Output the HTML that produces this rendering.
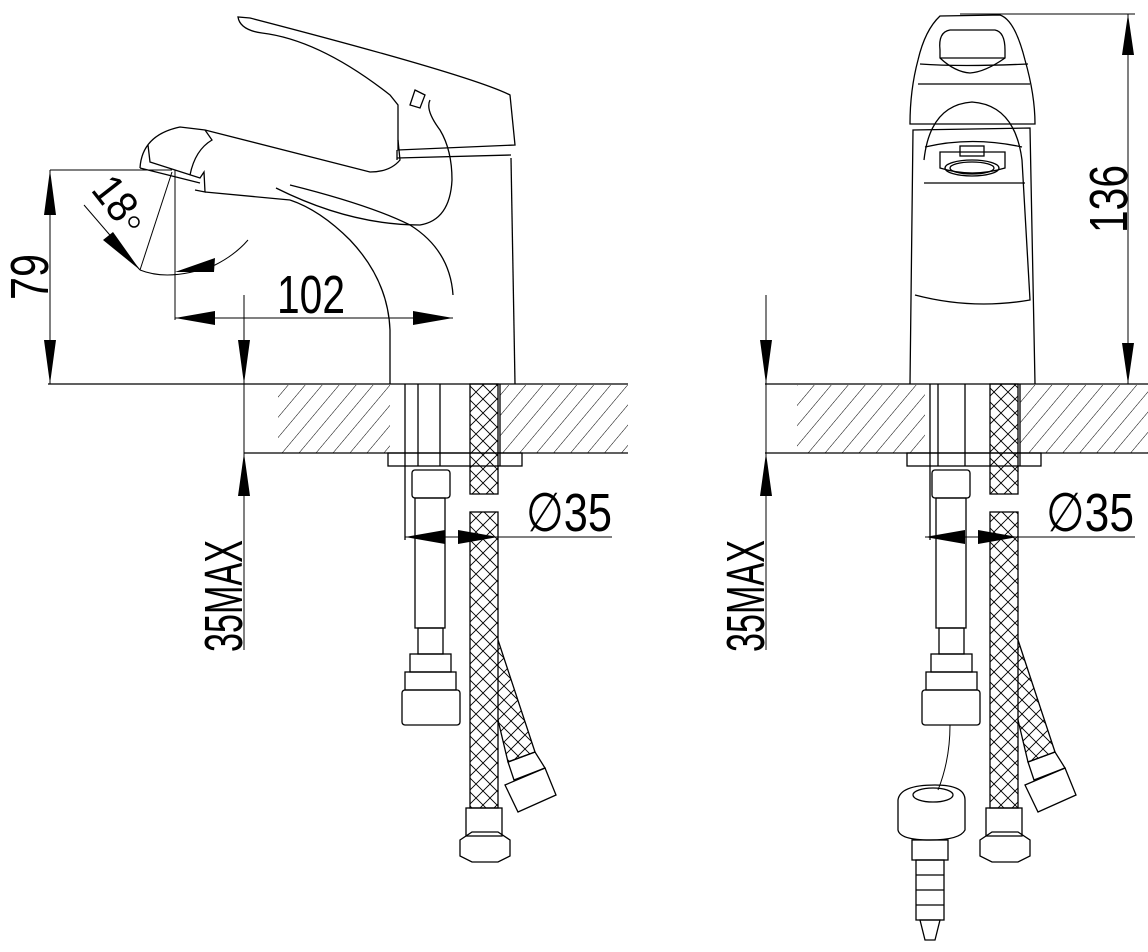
<!DOCTYPE html>
<html><head><meta charset="utf-8"><style>
html,body{margin:0;padding:0;background:#fff}
svg{display:block}
text{font-family:"Liberation Sans",sans-serif;fill:#000}
</style></head><body>
<svg width="1148" height="952" viewBox="0 0 1148 952" xmlns="http://www.w3.org/2000/svg" fill="none" stroke="#000" stroke-width="1.3">
<defs>
<pattern id="h" width="13" height="13" patternUnits="userSpaceOnUse" patternTransform="rotate(40)">
<line x1="0" y1="0" x2="0" y2="13" stroke="#000" stroke-width="1"/>
</pattern>
<pattern id="hb" width="28" height="14" patternUnits="userSpaceOnUse">
<path d="M0,0 L14,14 M14,0 L28,14 M0,14 L14,0 M14,14 L28,0" stroke="#000" stroke-width="0.9" fill="none"/>
</pattern>
</defs>

<!-- ============ LEFT VIEW ============ -->
<rect x="278" y="385" width="112" height="68" fill="url(#h)" stroke="none"/>
<rect x="500" y="385" width="128" height="68" fill="url(#h)" stroke="none"/>
<line x1="48" y1="384" x2="628" y2="384"/>
<line x1="244" y1="453" x2="628" y2="453"/>
<line x1="405" y1="384" x2="405" y2="540"/>
<line x1="418" y1="384" x2="418" y2="466"/>
<line x1="440" y1="384" x2="440" y2="466"/>
<line x1="500" y1="384" x2="500" y2="466"/>
<rect x="388" y="453" width="134" height="13"/>
<rect x="412" y="470" width="38" height="28" rx="3"/>
<rect x="415" y="498" width="30" height="130"/>
<rect x="418" y="628" width="25" height="26"/>
<rect x="410" y="654" width="41" height="18"/>
<rect x="405" y="672" width="51" height="18"/>
<rect x="402" y="690" width="58" height="35" rx="3"/>
<rect x="470" y="384" width="28" height="110" fill="url(#hb)"/>
<rect x="470" y="512" width="28" height="296" fill="url(#hb)"/>
<path d="M498,640 L535,752 L508,762 L498,720" fill="url(#hb)"/>
<path d="M508,762 L535,752 L545,768 L514,780z"/>
<path d="M505,785 L545,768 L556,795 L518,812z"/>
<rect x="466" y="808" width="36" height="28"/>
<path d="M460,840 L472,832 L498,832 L510,840 L510,856 L498,862 L472,862 L460,856z"/>
<line x1="405" y1="537" x2="612" y2="537" stroke-width="1"/>
<path d="M405,537 L445,530 L445,544z M498,537 L458,530 L458,544z" fill="#000" stroke="none"/>
<text x="526" y="531" font-size="54" textLength="86" lengthAdjust="spacingAndGlyphs" stroke="none">∅35</text>
<line x1="244" y1="295" x2="244" y2="650" stroke-width="1"/>
<path d="M244,384 L238,340 L250,340z M244,453 L238,496 L250,496z" fill="#000" stroke="none"/>
<text transform="translate(242,652) rotate(-90)" font-size="54" textLength="112" lengthAdjust="spacingAndGlyphs" stroke="none">35MAX</text>
<line x1="50" y1="170" x2="50" y2="384" stroke-width="1"/>
<line x1="50" y1="170" x2="172" y2="170" stroke-width="1"/>
<path d="M50,170 L44,215 L56,215z M50,384 L44,340 L56,340z" fill="#000" stroke="none"/>
<text transform="translate(48,300) rotate(-90)" font-size="54" textLength="46" lengthAdjust="spacingAndGlyphs" stroke="none">79</text>
<line x1="175" y1="170" x2="175" y2="320" stroke-width="1"/>
<line x1="175" y1="318" x2="453" y2="318" stroke-width="1"/>
<path d="M175,318 L215,311 L215,325z M453,318 L413,311 L413,325z" fill="#000" stroke="none"/>
<text x="277" y="313" font-size="54" textLength="68" lengthAdjust="spacingAndGlyphs" stroke="none">102</text>
<line x1="172" y1="172" x2="140" y2="270" stroke-width="1"/>
<line x1="84" y1="205" x2="140" y2="270" stroke-width="1"/>
<path d="M140,270 Q170,282 215,265 Q235,255 248,240" stroke-width="1"/>
<path d="M140,270 L103,240 L113,232z M175,272 L215,258 L214,272z" fill="#000" stroke="none"/>
<text transform="translate(90,190) rotate(52)" font-size="44" textLength="44" lengthAdjust="spacingAndGlyphs" stroke="none">18</text>
<circle cx="134" cy="222" r="5" stroke-width="1.5"/>
<!-- body -->
<path d="M390,384 L390,330 Q388,280 350,240 Q320,210 290,200"/>
<path d="M453,295 Q450,250 410,225 Q370,205 290,185"/>
<path d="M515,384 L511,158"/>
<path d="M205,192 L290,200"/>
<path d="M140,168 Q142,135 180,127 L205,130 L370,172 Q390,172 400,160 L398,140"/>
<path d="M205,130 L212,140 Q195,150 190,175"/>
<path d="M148,145 L150,162 L200,178 L204,172 L205,192 L195,190" />
<path d="M140,168 L200,183"/>
<path d="M276,188 Q350,225 420,225 Q450,220 452,180 Q452,150 440,130 Q425,110 430,100"/>
<path d="M238,17 Q240,30 262,33 Q320,40 390,95 L398,105 L398,150 L515,145 L510,95 Q470,75 250,18z"/>
<line x1="397" y1="158" x2="511" y2="155"/>
<line x1="397" y1="150" x2="397" y2="160"/>
<path d="M415,90 L425,95 L420,108 L410,105z"/>
<!-- ============ RIGHT VIEW ============ -->
<rect x="797" y="385" width="128" height="68" fill="url(#h)" stroke="none"/>
<rect x="1020" y="385" width="128" height="68" fill="url(#h)" stroke="none"/>
<line x1="765" y1="384" x2="1148" y2="384"/>
<line x1="765" y1="453" x2="1148" y2="453"/>
<line x1="930" y1="384" x2="930" y2="540"/>
<line x1="938" y1="384" x2="938" y2="466"/>
<line x1="965" y1="384" x2="965" y2="466"/>
<line x1="1020" y1="384" x2="1020" y2="466"/>
<rect x="907" y="453" width="134" height="13"/>
<rect x="932" y="470" width="38" height="28" rx="3"/>
<rect x="936" y="498" width="30" height="130"/>
<rect x="939" y="628" width="25" height="26"/>
<rect x="931" y="654" width="41" height="18"/>
<rect x="926" y="672" width="51" height="18"/>
<rect x="922" y="690" width="58" height="35" rx="3"/>
<path d="M950,725 Q950,760 938,790" stroke-width="1"/>
<path d="M898,800 Q900,785 935,785 Q965,785 965,800 L965,830 Q960,840 930,840 Q900,840 898,830z"/>
<ellipse cx="933" cy="795" rx="20" ry="7"/>
<rect x="912" y="840" width="36" height="20"/>
<rect x="916" y="860" width="28" height="60"/>
<line x1="916" y1="875" x2="944" y2="875"/><line x1="916" y1="890" x2="944" y2="890"/><line x1="916" y1="905" x2="944" y2="905"/>
<path d="M920,920 L940,920 L935,940 L925,940z"/>
<rect x="990" y="384" width="28" height="110" fill="url(#hb)"/>
<rect x="990" y="512" width="28" height="296" fill="url(#hb)"/>
<path d="M1018,640 L1055,752 L1028,762 L1018,720" fill="url(#hb)"/>
<path d="M1028,762 L1055,752 L1065,768 L1034,780z"/>
<path d="M1025,785 L1065,768 L1076,795 L1038,812z"/>
<rect x="986" y="808" width="36" height="28"/>
<path d="M980,840 L992,832 L1018,832 L1030,840 L1030,856 L1018,862 L992,862 L980,856z"/>
<line x1="925" y1="537" x2="1135" y2="537" stroke-width="1"/>
<path d="M925,537 L965,530 L965,544z M1018,537 L978,530 L978,544z" fill="#000" stroke="none"/>
<text x="1046" y="531" font-size="54" textLength="88" lengthAdjust="spacingAndGlyphs" stroke="none">∅35</text>
<line x1="766" y1="295" x2="766" y2="650" stroke-width="1"/>
<path d="M766,384 L760,340 L772,340z M766,453 L760,496 L772,496z" fill="#000" stroke="none"/>
<text transform="translate(764,652) rotate(-90)" font-size="54" textLength="112" lengthAdjust="spacingAndGlyphs" stroke="none">35MAX</text>
<line x1="960" y1="14" x2="1135" y2="14" stroke-width="1"/>
<line x1="1128" y1="14" x2="1128" y2="384" stroke-width="1"/>
<path d="M1128,14 L1122,55 L1134,55z M1128,384 L1122,343 L1134,343z" fill="#000" stroke="none"/>
<text transform="translate(1127,233) rotate(-90)" font-size="54" textLength="68" lengthAdjust="spacingAndGlyphs" stroke="none">136</text>
<path d="M910,124 Q910,90 918,60 Q925,30 940,16 L1000,15 Q1015,20 1025,60 Q1035,95 1035,124z"/>
<path d="M918,84 L1030,84 M920,64 Q960,67 1028,64"/>
<path d="M940,50 Q938,32 950,30 L995,30 Q1005,32 1005,50 L1005,58 Q985,72 970,73 Q955,72 940,58z"/>
<line x1="940" y1="58" x2="1005" y2="58"/>
<path d="M910,384 L913,130 L1030,128 L1035,384"/>
<path d="M924,160 Q930,105 972,102 Q1015,105 1022,160 L1030,300 Q972,310 915,295"/>
<path d="M924,183 L1025,183 M925,147 Q972,136 1022,147"/>
<path d="M940,152 L1005,152 L1005,168 Q972,178 940,168z"/>
<ellipse cx="972" cy="168" rx="27" ry="8"/>
<ellipse cx="972" cy="168" rx="22" ry="6"/>
<rect x="960" y="146" width="24" height="10"/>
</svg>
</body></html>
